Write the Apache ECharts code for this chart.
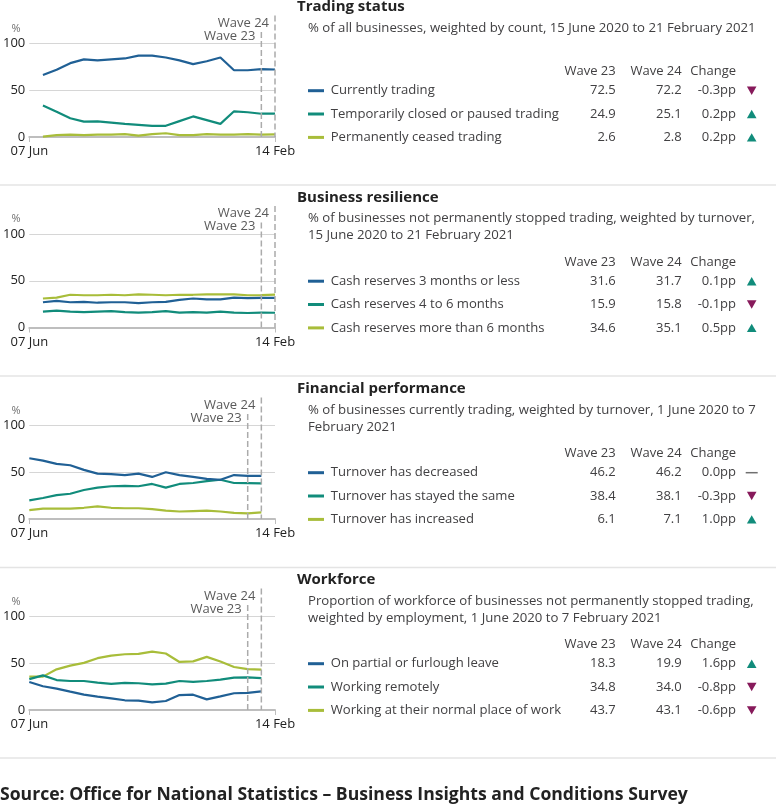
<!DOCTYPE html>
<html><head><meta charset="utf-8">
<script src="https://cdn.jsdelivr.net/npm/echarts@6/dist/echarts.min.js"></script>
<style>html,body{margin:0;padding:0;background:#fff}#c{width:776px;height:809px}</style>
</head><body><div id="c"></div>
<script>
// ---------- DATA ----------
const dates = ['07 Jun','21 Jun','05 Jul','19 Jul','02 Aug','16 Aug','30 Aug','13 Sep','27 Sep','11 Oct','25 Oct','08 Nov','22 Nov','06 Dec','20 Dec','03 Jan','17 Jan','31 Jan','14 Feb'];

// Trading status
const currentlyTrading = [null,66.4,72,79,83,82,83,84,87,87,85,82,78,81,85,71.4,71.4,72.5,72.2];
const tempClosed       = [null,33.6,27,20,16.4,16.8,15.4,14,13,12,12,17,22,18,14,27.5,26.5,24.9,25.1];
const permCeased       = [null,0.5,2,2.5,2,2.5,2.5,3,1.5,3,4,2,2,3,2.5,2.5,3,2.6,2.8];

// Business resilience
const cash3mOrLess = [null,27,28.5,27,27.5,26.5,27,27,26,27,27.5,29.5,31,30,30,32,31.5,31.6,31.7];
const cash4to6m    = [null,17,18,17,16.5,17,17.5,16.5,16,16.5,17.5,16,16.5,16,17,16,15.5,15.9,15.8];
const cashOver6m   = [null,31,32,35,34.5,34.5,35,34.5,35.5,35,34.5,35,35,35.5,35.5,35.5,34.5,34.6,35.1];

// Financial performance
const turnoverDecreased = [65,62.5,59,57.5,52.5,48.5,48,47,48.5,45,50,47,45,43,42,47,46.2,46.2,null];
const turnoverSame      = [20,22.5,25.5,27,31,33.5,35,35.5,35,37.5,33.5,37.5,38.5,40.5,42,38.5,38.4,38.1,null];
const turnoverIncreased = [9.5,11,11,11,12,13.5,12,11.5,11.5,10.5,9,8,8.5,9,8,6.5,6.1,7.1,null];

// Workforce
const furlough    = [30,25.4,22.9,19.6,16.4,14.3,12.5,10.4,10,8.2,9.6,16,16.4,11.4,14.6,17.9,18.3,19.9,null];
const remote      = [33,37,32,31,31,29.3,28,29,28.6,27.5,28.2,31,30,31,32.5,34.6,34.8,34,null];
const normalPlace = [35.7,35.7,43.5,47.5,50.4,55.4,58.2,59.6,60,62.5,60.4,51.4,52,56.8,51.8,46,43.7,43.1,null];

// Tables
const titles = ['Trading status','Business resilience','Financial performance','Workforce'];
const subtitles = [
  ['% of all businesses, weighted by count, 15 June 2020 to 21 February 2021'],
  ['% of businesses not permanently stopped trading, weighted by turnover,','15 June 2020 to 21 February 2021'],
  ['% of businesses currently trading, weighted by turnover, 1 June 2020 to 7','February 2021'],
  ['Proportion of workforce of businesses not permanently stopped trading,','weighted by employment, 1 June 2020 to 7 February 2021']
];
const rowLabels = [
  ['Currently trading','Temporarily closed or paused trading','Permanently ceased trading'],
  ['Cash reserves 3 months or less','Cash reserves 4 to 6 months','Cash reserves more than 6 months'],
  ['Turnover has decreased','Turnover has stayed the same','Turnover has increased'],
  ['On partial or furlough leave','Working remotely','Working at their normal place of work']
];
const wave23 = [[72.5,24.9,2.6],[31.6,15.9,34.6],[46.2,38.4,6.1],[18.3,34.8,43.7]];
const wave24 = [[72.2,25.1,2.8],[31.7,15.8,35.1],[46.2,38.1,7.1],[19.9,34.0,43.1]];
const changes = [[-0.3,0.2,0.2],[0.1,-0.1,0.5],[0.0,-0.3,1.0],[1.6,-0.8,-0.6]];
const waveDates = [['31 Jan','14 Feb'],['31 Jan','14 Feb'],['17 Jan','31 Jan'],['17 Jan','31 Jan']];
const sourceText = 'Source: Office for National Statistics \u2013 Business Insights and Conditions Survey';

// ---------- BUILD ----------
const seriesSets = [
  [currentlyTrading, tempClosed, permCeased],
  [cash3mOrLess, cash4to6m, cashOver6m],
  [turnoverDecreased, turnoverSame, turnoverIncreased],
  [furlough, remote, normalPlace]
];
const COLORS = ['#206095','#118c7b','#a8bd3a'];
const FONT = '"Open Sans", sans-serif';
const titleY = [7, 197.5, 389, 580];
const separators = [185, 376, 567.5, 758];
const last = dates.length - 1;

const grids = [], xAxes = [], yAxes = [], series = [];
titleY.forEach((ty, i) => {
  grids.push({left: 28, width: 247, top: ty + 36.5, height: 93.5});
  xAxes.push({
    type: 'category', gridIndex: i, data: dates, boundaryGap: false,
    axisLine: {lineStyle: {color: '#bebebe', width: 2}},
    axisTick: {show: true, interval: (idx) => idx === 0 || idx === last, length: 5, lineStyle: {color: '#bebebe', width: 1}},
    axisLabel: {interval: (idx) => idx === 0 || idx === last, color: '#222', fontSize: 13, fontFamily: FONT, margin: 8},
    splitLine: {show: false}
  });
  yAxes.push({
    type: 'value', gridIndex: i, min: 0, max: 100, interval: 50,
    axisLine: {show: false}, axisTick: {show: false},
    axisLabel: {color: '#222', fontSize: 13, fontFamily: FONT, margin: 4},
    splitLine: {lineStyle: {color: '#d6d6d6', width: 1}}
  });
  seriesSets[i].forEach((arr, k) => {
    series.push({
      type: 'line', xAxisIndex: i, yAxisIndex: i, data: arr,
      showSymbol: false, symbol: 'none', color: COLORS[k],
      lineStyle: {width: 2.2, color: COLORS[k]}, z: 3 - k
    });
  });
});

const chart = echarts.init(document.getElementById('c'), null, {renderer: 'canvas'});
chart.setOption({
  animation: false,
  backgroundColor: '#fff',
  grid: grids, xAxis: xAxes, yAxis: yAxes, series: series
});

// ---------- TEXT / ANNOTATIONS ----------
const g = [];
const txt = (x, y, text, opts) => g.push({type: 'text', silent: true, style: Object.assign({
  x, y, text, fill: '#414042', font: '13px ' + FONT, textAlign: 'left', textVerticalAlign: 'middle'}, opts || {})});

separators.forEach(y => g.push({type: 'line', silent: true, shape: {x1: 0, y1: y, x2: 776, y2: y}, style: {stroke: '#e4e4e4', lineWidth: 1.5}}));

titleY.forEach((ty, i) => {
  txt(297, ty, titles[i], {fill: '#222', font: 'bold 15px ' + FONT});
  subtitles[i].forEach((s, j) => txt(308, ty + 21 + j * 16.8, s, {font: '13.2px ' + FONT}));
  const gt = ty + 36.5;
  txt(16, gt - 15, '%', {fill: '#707070', font: '11px ' + FONT, textAlign: 'center'});
  const hy = ty + 64.7;
  txt(615.7, hy, 'Wave 23', {textAlign: 'right'});
  txt(681.7, hy, 'Wave 24', {textAlign: 'right'});
  txt(736, hy, 'Change', {textAlign: 'right'});
  [19, 42.3, 65.7].forEach((dy, r) => {
    const ry = hy + dy;
    g.push({type: 'rect', silent: true, shape: {x: 308, y: ry - 1.5, width: 16, height: 3}, style: {fill: COLORS[r]}});
    txt(330.7, ry, rowLabels[i][r], {font: '13.1px ' + FONT});
    txt(615.7, ry, wave23[i][r].toFixed(1), {textAlign: 'right'});
    txt(681.7, ry, wave24[i][r].toFixed(1), {textAlign: 'right'});
    const c = changes[i][r];
    txt(736, ry, c.toFixed(1) + 'pp', {textAlign: 'right'});
    const cx = 751.7;
    if (c > 0) {
      g.push({type: 'polygon', silent: true, shape: {points: [[cx - 4.8, ry + 4.2], [cx + 4.8, ry + 4.2], [cx, ry - 4.2]]}, style: {fill: '#118c7b'}});
    } else if (c < 0) {
      g.push({type: 'polygon', silent: true, shape: {points: [[cx - 4.8, ry - 4.2], [cx + 4.8, ry - 4.2], [cx, ry + 4.2]]}, style: {fill: '#871a5b'}});
    } else {
      g.push({type: 'rect', silent: true, shape: {x: cx - 6, y: ry - 0.75, width: 12, height: 1.5}, style: {fill: '#707070'}});
    }
  });
  // wave lines using the chart's own scale
  const [w23, w24] = waveDates[i];
  const p23 = chart.convertToPixel({gridIndex: i}, [w23, 0]);
  const p24 = chart.convertToPixel({gridIndex: i}, [w24, 0]);
  g.push({type: 'line', silent: true, z: 10, shape: {x1: p24[0], y1: gt - 28, x2: p24[0], y2: p24[1]}, style: {stroke: '#ababab', lineWidth: 1.5, lineDash: [6, 3]}});
  g.push({type: 'line', silent: true, z: 10, shape: {x1: p23[0], y1: gt - 11.5, x2: p23[0], y2: p23[1]}, style: {stroke: '#ababab', lineWidth: 1.5, lineDash: [6, 3]}});
  txt(p24[0] - 6, gt - 20.6, 'Wave 24', {textAlign: 'right', fill: '#5a5a5a'});
  txt(p23[0] - 6, gt - 7.3, 'Wave 23', {textAlign: 'right', fill: '#5a5a5a'});
});

txt(0, 795, sourceText, {fill: '#222', font: 'bold 17.6px ' + FONT});

chart.setOption({graphic: {elements: g}});
</script></body></html>
